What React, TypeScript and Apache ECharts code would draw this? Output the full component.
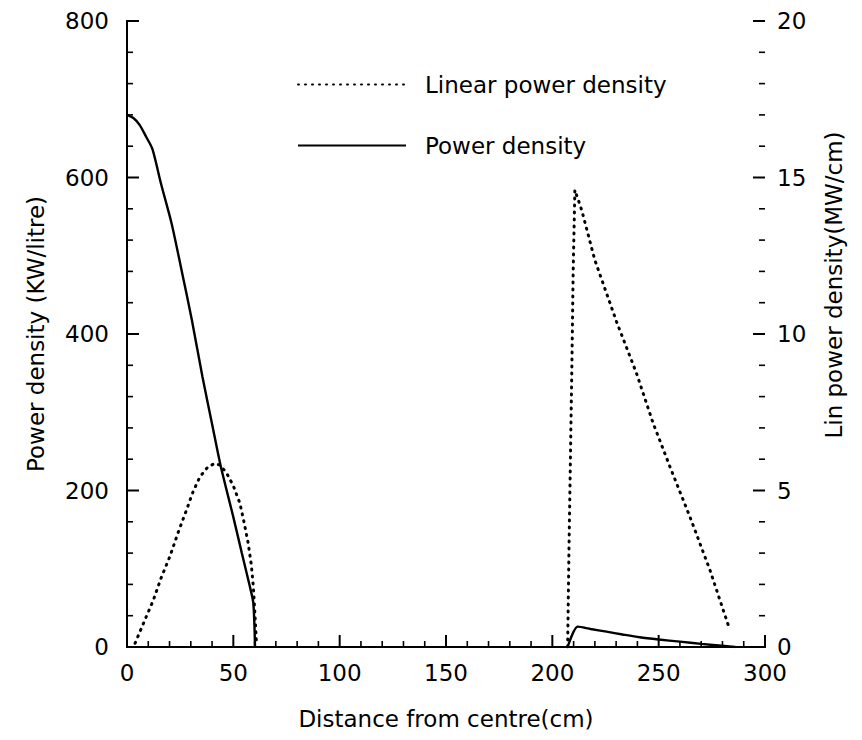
import React, { useEffect, useRef } from "react";
import * as echarts from "echarts";

// Power density (KW/litre), left axis
const pdCoreX = [0, 3, 6, 9, 12, 16, 21, 26, 30.5, 35.5, 40, 44, 50, 54, 57.8, 59.4, 60.2];
const pdCoreY = [680, 676, 667, 652, 636, 592, 541, 477, 418, 345, 285, 232, 166, 120, 77, 56, 0];
const pdBlanketX = [207.2, 212, 218, 225.5, 233, 241, 250, 260, 270, 281, 286];
const pdBlanketY = [0, 26, 23, 19.6, 16, 12.4, 9.5, 6.8, 4, 1.3, 0];

// Linear power density (MW/cm), right axis
const lpdCoreX = [3.8, 8, 12.4, 16, 20.2, 24, 28, 31, 34.3, 38, 41.4, 44, 46.9, 50, 53.1, 55, 57, 58.5, 59.4, 60.2, 60.8];
const lpdCoreY = [0.12, 0.8, 1.5, 2.2, 2.9, 3.65, 4.38, 4.95, 5.44, 5.75, 5.87, 5.8, 5.55, 5.15, 4.59, 4.0, 3.31, 2.6, 1.93, 1.0, 0.2];
const lpdBlanketX = [207.2, 207.8, 208.5, 209.2, 209.8, 210.6, 213.8, 220, 230.2, 239.6, 247.4, 255.3, 264.7, 274.1, 283.5];
const lpdBlanketY = [0, 3, 6, 9, 12, 14.6, 13.96, 12.36, 10.39, 8.74, 7.15, 5.76, 4.16, 2.46, 0.54];

const xTicks = { min: 0, max: 300, interval: 50, minor: 10 };
const leftTicks = { min: 0, max: 800, interval: 200, minor: 40 };
const rightTicks = { min: 0, max: 20, interval: 5, minor: 1 };

const seriesNames = ["Linear power density", "Power density"];
const axisNames = {
  x: "Distance from centre(cm)",
  left: "Power density (KW/litre)",
  right: "Lin power density(MW/cm)",
};

const FONT = "DejaVu Sans";

function pairs(xs: number[], ys: number[]) {
  return xs.map((x, i) => [x, ys[i]]);
}

function joinSegments(a: number[][], b: number[][]) {
  return [...a, [(a[a.length - 1][0] + b[0][0]) / 2, null], ...b];
}

function tickValues(t: { min: number; max: number; interval: number; minor: number }) {
  const out: number[][] = [];
  const n = Math.round((t.max - t.min) / t.minor);
  for (let i = 0; i <= n; i++) {
    const v = t.min + i * t.minor;
    const major = Math.abs(v / t.interval - Math.round(v / t.interval)) < 1e-6 ? 1 : 0;
    out.push([v, major]);
  }
  return out;
}

const MAJOR_LEN = 12;
const MINOR_LEN = 6;

function tickSeries(kind: "x" | "left" | "right") {
  const t = kind === "x" ? xTicks : kind === "left" ? leftTicks : rightTicks;
  const vals = tickValues(t);
  const data = vals.map(([v, m]) =>
    kind === "x" ? [v, leftTicks.min, m] : kind === "left" ? [xTicks.min, v, m] : [xTicks.max, v, m]
  );
  return {
    type: "custom",
    silent: true,
    xAxisIndex: 0,
    yAxisIndex: kind === "right" ? 1 : 0,
    clip: false,
    data,
    renderItem: (_params: any, api: any) => {
      const p = api.coord([api.value(0), api.value(1)]);
      const len = api.value(2) ? MAJOR_LEN : MINOR_LEN;
      let x2 = p[0];
      let y2 = p[1];
      if (kind === "x") y2 = p[1] - len;
      else if (kind === "left") x2 = p[0] + len;
      else x2 = p[0] - len;
      return {
        type: "line",
        shape: { x1: p[0], y1: p[1], x2, y2 },
        style: { stroke: "#000", lineWidth: api.value(2) ? 2 : 1.6 },
      };
    },
  };
}

export default function App() {
  const ref = useRef<HTMLDivElement>(null);
  useEffect(() => {
    if (!ref.current) return;
    const chart = echarts.init(ref.current, undefined, { renderer: "svg" });
    const axisCommon = {
      axisLine: { show: true, lineStyle: { color: "#000", width: 2 } },
      axisTick: { show: false },
      splitLine: { show: false },
      axisLabel: { color: "#000", fontSize: 23, fontFamily: FONT },
      nameTextStyle: { color: "#000", fontSize: 23, fontFamily: FONT },
    };
    chart.setOption({
      animation: false,
      grid: { left: 127, right: 97, top: 21, bottom: 93 },
      legend: {
        orient: "vertical",
        left: 292,
        top: 68,
        itemWidth: 108,
        itemHeight: 14,
        itemGap: 38,
        data: seriesNames,
        itemStyle: { opacity: 0 },
        textStyle: { color: "#000", fontSize: 23, fontFamily: FONT, padding: [0, 0, 0, 14] },
      },
      xAxis: [
        {
          type: "value",
          min: xTicks.min,
          max: xTicks.max,
          interval: xTicks.interval,
          position: "bottom",
          name: axisNames.x,
          nameLocation: "middle",
          nameGap: 60,
          ...axisCommon,
          axisLabel: { ...axisCommon.axisLabel, margin: 14 },
        },
        {
          type: "value",
          min: xTicks.min,
          max: xTicks.max,
          interval: xTicks.interval,
          position: "top",
          axisLine: { show: true, lineStyle: { color: "#000", width: 2 } },
          axisTick: { show: false },
          axisLabel: { show: false },
          splitLine: { show: false },
        },
      ],
      yAxis: [
        {
          type: "value",
          min: leftTicks.min,
          max: leftTicks.max,
          interval: leftTicks.interval,
          position: "left",
          name: axisNames.left,
          nameLocation: "middle",
          nameRotate: 90,
          nameGap: 80,
          ...axisCommon,
          axisLabel: { ...axisCommon.axisLabel, margin: 18 },
        },
        {
          type: "value",
          min: rightTicks.min,
          max: rightTicks.max,
          interval: rightTicks.interval,
          position: "right",
          ...axisCommon,
          axisLabel: { ...axisCommon.axisLabel, margin: 12 },
        },
      ],
      graphic: [
        {
          type: "text",
          x: 834,
          y: 285,
          rotation: Math.PI / 2,
          style: {
            text: axisNames.right,
            fill: "#000",
            fontSize: 23,
            fontFamily: FONT,
            align: "center",
            verticalAlign: "middle",
          },
        },
      ],
      series: [
        {
          name: seriesNames[0],
          type: "line",
          yAxisIndex: 1,
          symbol: "none",
          connectNulls: false,
          lineStyle: { color: "#000", width: 3, type: [1, 6], cap: "round" },
          itemStyle: { color: "#000" },
          data: joinSegments(pairs(lpdCoreX, lpdCoreY), pairs(lpdBlanketX, lpdBlanketY)),
        },
        {
          name: seriesNames[1],
          type: "line",
          yAxisIndex: 0,
          symbol: "none",
          smooth: 0.25,
          connectNulls: false,
          lineStyle: { color: "#000", width: 2.4, type: "solid" },
          itemStyle: { color: "#000" },
          data: joinSegments(pairs(pdCoreX, pdCoreY), pairs(pdBlanketX, pdBlanketY)),
        },
        tickSeries("x"),
        tickSeries("left"),
        tickSeries("right"),
      ],
    });
    return () => chart.dispose();
  }, []);
  return (
    <div
      ref={ref}
      style={{ position: "fixed", left: 0, top: 0, width: 862, height: 740, background: "#fff" }}
    />
  );
}
